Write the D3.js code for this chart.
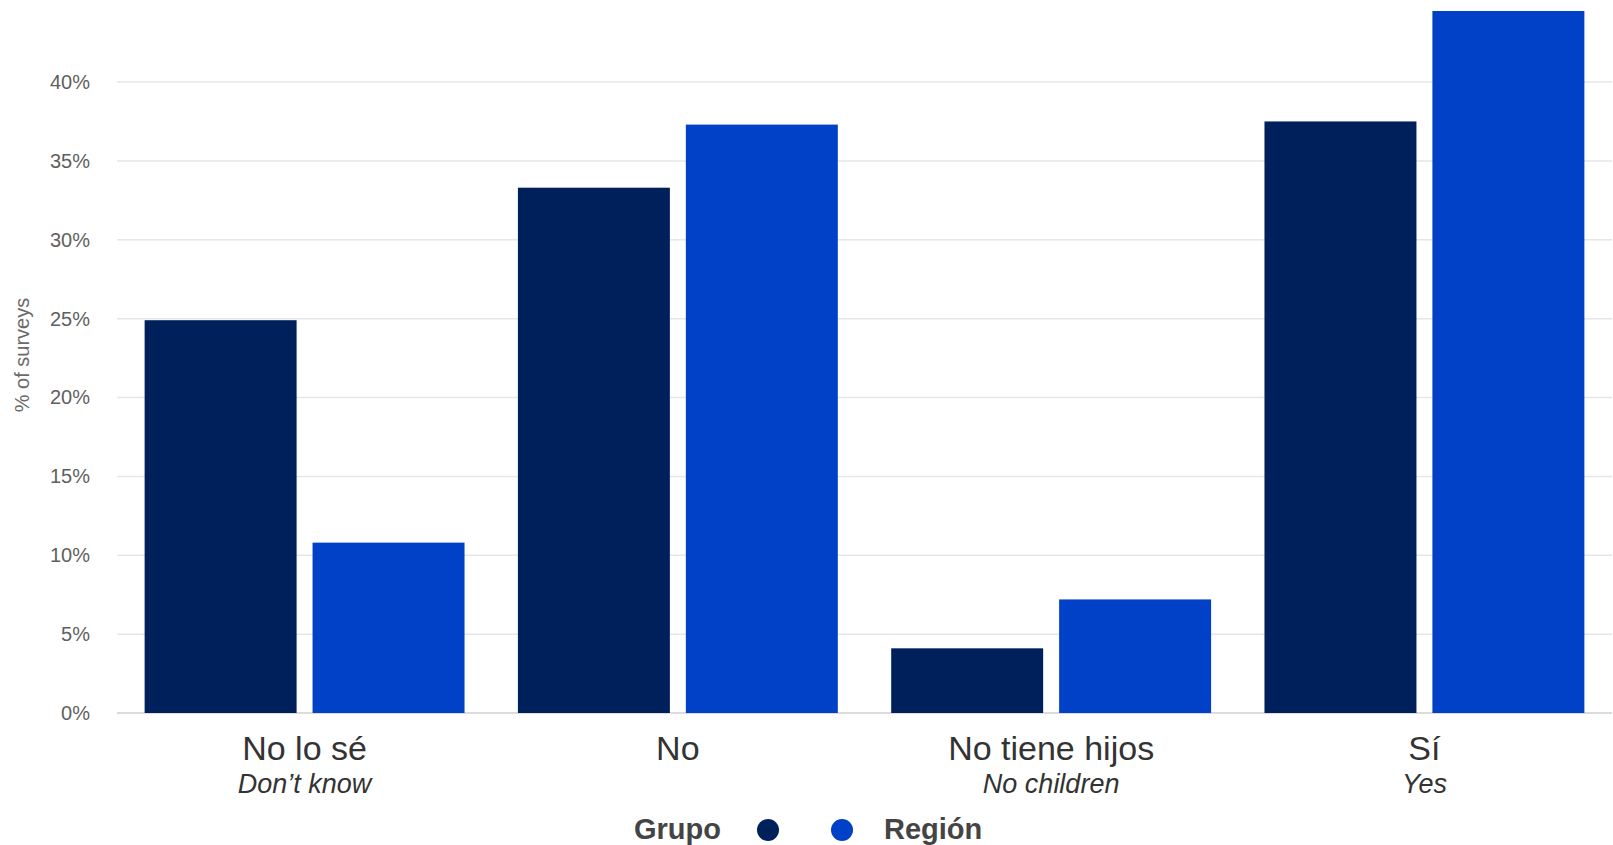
<!DOCTYPE html>
<html>
<head>
<meta charset="utf-8">
<script src="https://cdn.jsdelivr.net/npm/d3@7"></script>
<style>
  html, body { margin: 0; padding: 0; background: #fff; }
  svg { display: block; font-family: "Liberation Sans", Arial, sans-serif; }
</style>
</head>
<body>
<svg id="chart" width="1613" height="845"></svg>
<script>
// ---- data ----
const categories = ["No lo sé", "No", "No tiene hijos", "Sí"];
const subLabels = ["Don’t know", "", "No children", "Yes"];
const seriesNames = ["Grupo", "Región"];
const grupoValues = [24.9, 33.3, 4.1, 37.5];
const regionValues = [10.8, 37.3, 7.2, 44.5];
const yTicks = [0, 5, 10, 15, 20, 25, 30, 35, 40];
const colors = ["#00205C", "#0041C7"];

const svg = d3.select("#chart");

const x0 = d3.scaleBand().domain(categories).range([117, 1612])
  .paddingInner(0.143).paddingOuter(0.074);
const x1 = d3.scaleBand().domain(seriesNames).range([0, x0.bandwidth()])
  .paddingInner(0.095);
const y = d3.scaleLinear().domain([0, 40]).range([713, 82]);

// gridlines
const grid = svg.append("g");
grid.selectAll("line").data(yTicks).join("line")
  .attr("x1", 117).attr("x2", 1612)
  .attr("y1", d => y(d)).attr("y2", d => y(d))
  .attr("stroke", d => d === 0 ? "#cfcfcf" : "#e6e6e6")
  .attr("stroke-width", 1.5);

// y axis labels
const yAxis = d3.axisLeft(y).tickValues(yTicks).tickFormat(d => d + "%").tickSize(0).tickPadding(0);
const ya = svg.append("g").attr("transform", "translate(90,0)").call(yAxis);
ya.select(".domain").remove();
ya.selectAll("text").attr("font-size", 20).attr("fill", "#5f5f5f")
  .attr("font-family", "'Liberation Sans', Arial, sans-serif");

// y title
svg.append("text")
  .attr("transform", "translate(29,355) rotate(-90)")
  .attr("text-anchor", "middle")
  .attr("font-size", 20).attr("fill", "#6a6a6a")
  .attr("font-family", "'Liberation Sans', Arial, sans-serif")
  .text("% of surveys");

// bars
const rows = categories.map((c, i) => ({ cat: c, vals: [grupoValues[i], regionValues[i]] }));
const groups = svg.append("g").selectAll("g").data(rows).join("g")
  .attr("transform", d => `translate(${x0(d.cat)},0)`);
groups.selectAll("rect").data(d => d.vals.map((v, j) => ({ s: seriesNames[j], v, j })))
  .join("rect")
  .attr("x", d => x1(d.s))
  .attr("width", x1.bandwidth())
  .attr("y", d => y(d.v))
  .attr("height", d => y(0) - y(d.v))
  .attr("fill", d => colors[d.j]);

// x labels
const xl = svg.append("g");
categories.forEach((c, i) => {
  const cx = x0(c) + x0.bandwidth() / 2;
  xl.append("text").attr("x", cx).attr("y", 760)
    .attr("text-anchor", "middle").attr("font-size", 34).attr("fill", "#333")
    .text(c);
  if (subLabels[i]) {
    xl.append("text").attr("x", cx).attr("y", 793)
      .attr("text-anchor", "middle").attr("font-size", 27).attr("font-style", "italic")
      .attr("fill", "#333").text(subLabels[i]);
  }
});

// legend
const leg = svg.append("g");
leg.append("text").attr("x", 721).attr("y", 839).attr("text-anchor", "end")
  .attr("font-size", 29).attr("font-weight", "bold").attr("fill", "#444").text(seriesNames[0]);
leg.append("circle").attr("cx", 768).attr("cy", 830).attr("r", 11).attr("fill", colors[0]);
leg.append("circle").attr("cx", 842).attr("cy", 830).attr("r", 11).attr("fill", colors[1]);
leg.append("text").attr("x", 884).attr("y", 839).attr("text-anchor", "start")
  .attr("font-size", 29).attr("font-weight", "bold").attr("fill", "#444").text(seriesNames[1]);
</script>
</body>
</html>
